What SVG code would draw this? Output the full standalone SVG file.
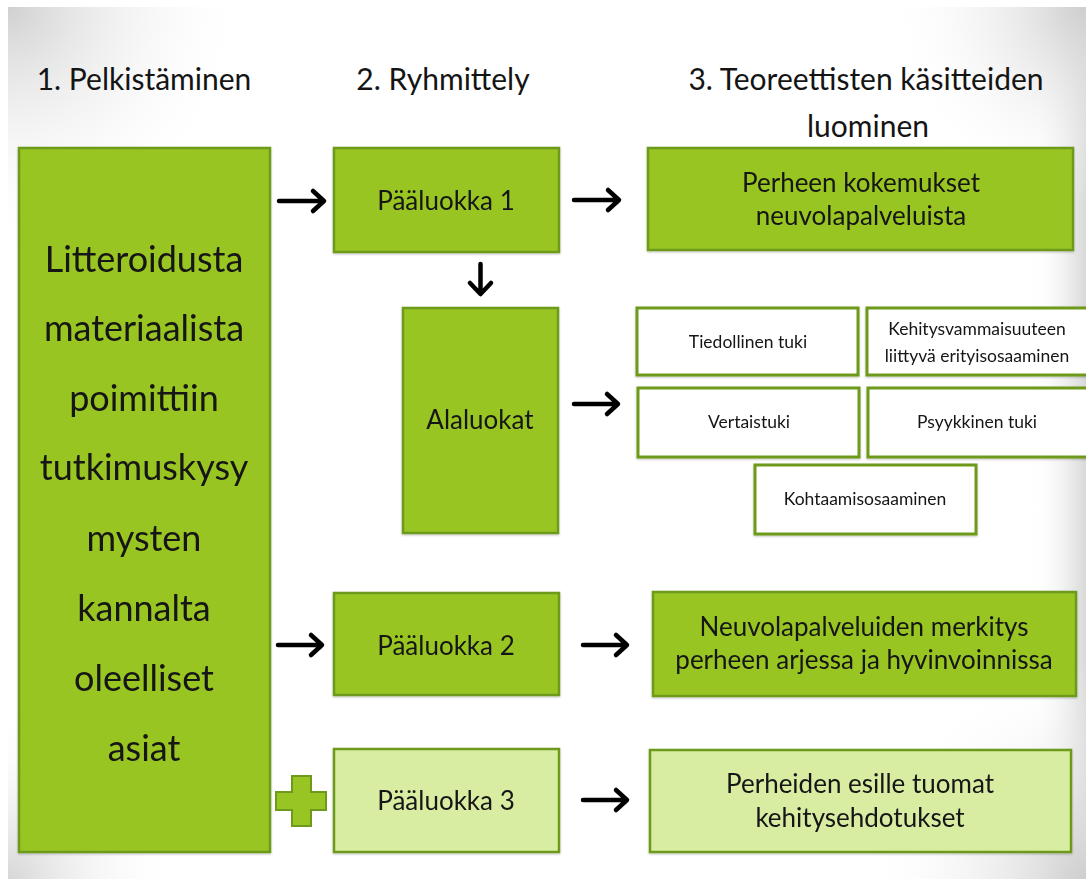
<svg xmlns="http://www.w3.org/2000/svg" width="1086" height="879" viewBox="0 0 1086 879">
<style>
  .t{font-family:Lato,"Open Sans","Liberation Sans",sans-serif;fill:#141414;text-anchor:middle}
  .h{font-size:30px}
  .big{font-size:36px}
  .m{font-size:26px}
  .s{font-size:17.5px}
  .g{fill:#99C524;stroke:#6E9A1C;stroke-width:2.5}
  .lg{fill:#D8EDA2;stroke:#6E9A1C;stroke-width:2.5}
  .w{fill:#FFFFFF;stroke:#6E9A1C;stroke-width:3}
  .arr{fill:none;stroke:#000;stroke-width:4.5;stroke-linecap:round;stroke-linejoin:round}
</style>
<defs>
  <radialGradient id="tl" cx="8" cy="7" r="240" gradientUnits="userSpaceOnUse">
    <stop offset="0" stop-color="#d0d0d0"/>
    <stop offset="1" stop-color="#ffffff" stop-opacity="0"/>
  </radialGradient>
  <radialGradient id="bl" cx="8" cy="879" r="170" gradientUnits="userSpaceOnUse">
    <stop offset="0" stop-color="#d6d6d6"/>
    <stop offset="1" stop-color="#ffffff" stop-opacity="0"/>
  </radialGradient>
  <radialGradient id="tr" cx="1086" cy="7" r="200" gradientUnits="userSpaceOnUse">
    <stop offset="0" stop-color="#cfcfcf"/>
    <stop offset="1" stop-color="#ffffff" stop-opacity="0"/>
  </radialGradient>
  <radialGradient id="br" cx="1086" cy="879" r="220" gradientUnits="userSpaceOnUse">
    <stop offset="0" stop-color="#cfcfcf"/>
    <stop offset="1" stop-color="#ffffff" stop-opacity="0"/>
  </radialGradient>
  <linearGradient id="re" x1="1030" y1="0" x2="1086" y2="0" gradientUnits="userSpaceOnUse">
    <stop offset="0" stop-color="#ffffff" stop-opacity="0"/>
    <stop offset="1" stop-color="#d8d8d8"/>
  </linearGradient>
  <filter id="sh" x="-5%" y="-5%" width="110%" height="115%">
    <feDropShadow dx="0" dy="1" stdDeviation="1.2" flood-color="#000" flood-opacity="0.25"/>
  </filter>
</defs>
<rect x="0" y="0" width="1086" height="879" fill="#ffffff"/>
<g id="background">
  <rect x="8" y="7" width="1078" height="872" fill="#ffffff"/>
  <rect x="8" y="7" width="1078" height="872" fill="url(#tl)"/>
  <rect x="8" y="7" width="1078" height="872" fill="url(#bl)"/>
  <rect x="8" y="7" width="1078" height="872" fill="url(#re)"/>
  <rect x="8" y="7" width="1078" height="872" fill="url(#tr)"/>
  <rect x="8" y="7" width="1078" height="872" fill="url(#br)"/>
</g>

<g id="headers">
  <text class="t h" x="144" y="90">1. Pelkistäminen</text>
  <text class="t h" x="443" y="90">2. Ryhmittely</text>
  <text class="t h" x="866" y="90">3. Teoreettisten käsitteiden</text>
  <text class="t h" x="868" y="137">luominen</text>
</g>

<g id="connectors">
  <path class="arr" d="M279 201 H323 M313 191 L324 201 L313 211"/>
  <path class="arr" d="M574 200 H618 M608 190 L619 200 L608 210"/>
  <path class="arr" d="M480.5 264 V293 M470 283 L480.5 294 L491 283"/>
  <path class="arr" d="M574 404 H617 M607 394 L618 404 L607 414"/>
  <path class="arr" d="M278 645 H321 M311 635 L322 645 L311 655"/>
  <path class="arr" d="M583 645 H626 M616 635 L627 645 L616 655"/>
  <path class="arr" d="M583 800 H626 M616 790 L627 800 L616 810"/>
</g>

<g id="n-source" filter="url(#sh)">
  <rect class="g" x="19" y="148" width="251" height="704"/>
  <text class="t big" x="144" y="272">Litteroidusta</text>
  <text class="t big" x="144" y="341">materiaalista</text>
  <text class="t big" x="144" y="411">poimittiin</text>
  <text class="t big" x="144" y="480">tutkimuskysy</text>
  <text class="t big" x="144" y="551">mysten</text>
  <text class="t big" x="144" y="621">kannalta</text>
  <text class="t big" x="144" y="691">oleelliset</text>
  <text class="t big" x="144" y="761">asiat</text>
</g>

<g id="n-paaluokka1" filter="url(#sh)">
  <rect class="g" x="334" y="148" width="225" height="104"/>
  <text class="t m" x="446" y="210">Pääluokka 1</text>
</g>
<g id="n-alaluokat" filter="url(#sh)">
  <rect class="g" x="403" y="308" width="155" height="225"/>
  <text class="t m" x="480" y="429">Alaluokat</text>
</g>
<g id="n-paaluokka2" filter="url(#sh)">
  <rect class="g" x="334" y="593" width="225" height="102"/>
  <text class="t m" x="446" y="655">Pääluokka 2</text>
</g>
<g id="n-plus">
  <path d="M292 776 H311 V792 H326 V810 H311 V826 H292 V810 H276 V792 H292 Z" fill="#99C524" stroke="#6E9A1C" stroke-width="2"/>
</g>
<g id="n-paaluokka3" filter="url(#sh)">
  <rect class="lg" x="334" y="749" width="225" height="103"/>
  <text class="t m" x="446" y="810">Pääluokka 3</text>
</g>

<g id="n-kokemukset" filter="url(#sh)">
  <rect class="g" x="648" y="148" width="425" height="102"/>
  <text class="t m" x="861" y="192">Perheen kokemukset</text>
  <text class="t m" x="861" y="225">neuvolapalveluista</text>
</g>
<g id="n-tiedollinen" filter="url(#sh)">
  <rect class="w" x="637" y="308" width="221" height="67"/>
  <text class="t s" x="748" y="348">Tiedollinen tuki</text>
</g>
<g id="n-kehitys" filter="url(#sh)">
  <rect class="w" x="867" y="308" width="221" height="67"/>
  <text class="t s" x="977" y="335">Kehitysvammaisuuteen</text>
  <text class="t s" x="977" y="362">liittyvä erityisosaaminen</text>
</g>
<g id="n-vertaistuki" filter="url(#sh)">
  <rect class="w" x="638" y="388" width="221" height="69"/>
  <text class="t s" x="749" y="428">Vertaistuki</text>
</g>
<g id="n-psyykkinen" filter="url(#sh)">
  <rect class="w" x="868" y="388" width="220" height="69"/>
  <text class="t s" x="977" y="428">Psyykkinen tuki</text>
</g>
<g id="n-kohtaamis" filter="url(#sh)">
  <rect class="w" x="755" y="465" width="221" height="69"/>
  <text class="t s" x="865" y="505">Kohtaamisosaaminen</text>
</g>
<g id="n-merkitys" filter="url(#sh)">
  <rect class="g" x="653" y="592" width="423" height="104"/>
  <text class="t m" x="864" y="636">Neuvolapalveluiden merkitys</text>
  <text class="t m" x="864" y="669">perheen arjessa ja hyvinvoinnissa</text>
</g>
<g id="n-kehitysehdotukset" filter="url(#sh)">
  <rect class="lg" x="650" y="750" width="421" height="102"/>
  <text class="t m" x="860" y="793">Perheiden esille tuomat</text>
  <text class="t m" x="860" y="827">kehitysehdotukset</text>
</g>
</svg>
